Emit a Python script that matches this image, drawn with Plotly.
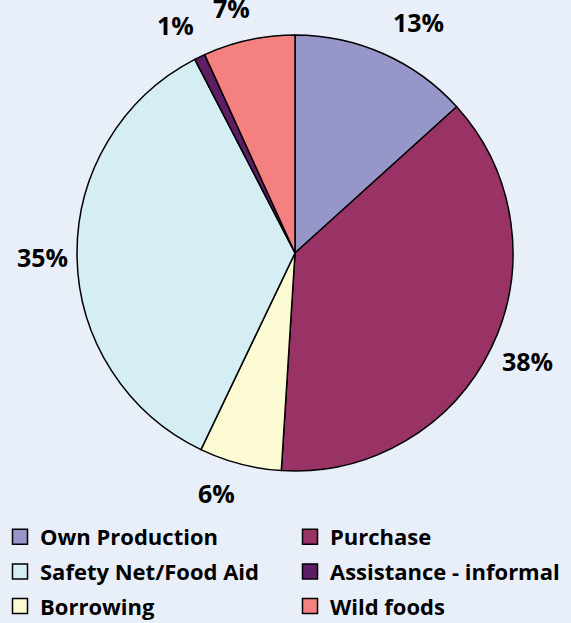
import math
import plotly.graph_objects as go

# ---- data ----
categories = ["Own Production", "Purchase", "Borrowing", "Safety Net/Food Aid",
              "Assistance - informal", "Wild foods"]
shares = [13.3, 37.7, 6.1, 35.3, 0.8, 6.8]
colors = ["#9796C9", "#993366", "#FCFAD2", "#D5EEF3", "#5E1E64", "#F58080"]
legend_columns = [["Own Production", "Safety Net/Food Aid", "Borrowing"],
                  ["Purchase", "Assistance - informal", "Wild foods"]]

W, H = 571, 623
BG = "#E9EFF8"
FONT = "Open Sans"

# pie geometry (pixels)
cx, cy, R = 295, 253, 218
# label placement tweaks (degrees shift from mid-angle, radius in px)
label_shift = [4.1, -0.9, 3.6, 0.0, -1.7, -2.2]
label_r = [262, 256, 253, 253, 257, 253]

fig = go.Figure()
fig.add_trace(go.Pie(
    labels=categories, values=shares, sort=False, direction="clockwise",
    rotation=0, marker=dict(colors=colors, line=dict(color="black", width=1.5)),
    textinfo="none", hoverinfo="label+percent", showlegend=False,
    domain=dict(x=[(cx - R) / W, (cx + R) / W], y=[1 - (cy + R) / H, 1 - (cy - R) / H]),
))

# percentage labels placed along each slice's mid-angle
total = sum(shares)
cum = 0
annotations = []
for i, v in enumerate(shares):
    mid = (cum + v / 2) / total * 360 + label_shift[i]
    cum += v
    a = math.radians(mid)
    px = cx + label_r[i] * math.sin(a)
    py = cy - label_r[i] * math.cos(a)
    annotations.append(dict(
        x=px / W, y=1 - py / H, xref="paper", yref="paper",
        text=f"{round(v / total * 100)}%", showarrow=False,
        font=dict(family=FONT, size=25, color="black", weight="bold"),
        xanchor="center", yanchor="middle"))

# legend via dummy traces in two vertical legends (columns)
color_of = dict(zip(categories, colors))
legend_names = ["legend", "legend2"]
col_x = [0, 290]
for col, names in enumerate(legend_columns):
    for name in names:
        fig.add_trace(go.Scatter(
            x=[None], y=[None], mode="markers", name=name,
            legend=legend_names[col], legendgroup=name,
            marker=dict(symbol="square", size=15, color=color_of[name],
                        line=dict(color="black", width=1.5)),
        ))

leg_common = dict(orientation="v", xanchor="left", yanchor="top",
                  y=1 - 516 / H, tracegroupgap=3,
                  bgcolor="rgba(0,0,0,0)",
                  font=dict(family=FONT, size=22, color="black", weight="bold"))
layout_legends = {}
for col, ln in enumerate(legend_names):
    layout_legends[ln] = dict(leg_common, x=col_x[col] / W)

fig.update_layout(
    width=W, height=H, margin=dict(l=0, r=0, t=0, b=0, autoexpand=False),
    paper_bgcolor=BG, plot_bgcolor=BG,
    xaxis=dict(visible=False), yaxis=dict(visible=False),
    annotations=annotations, showlegend=True,
    **layout_legends,
)

fig.write_html("out.html")
